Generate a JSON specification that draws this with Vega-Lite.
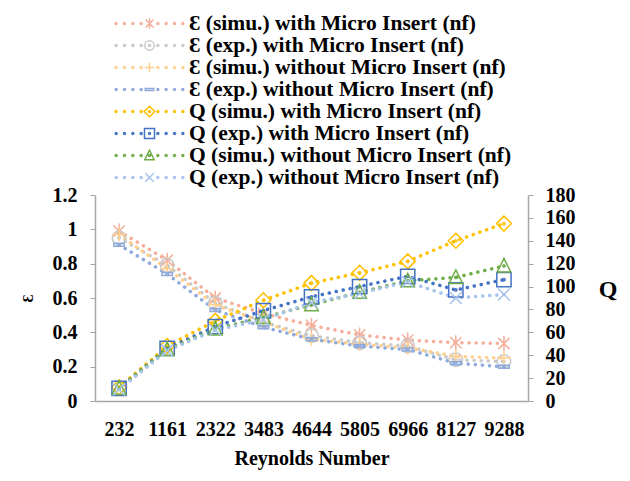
{
  "$schema": "https://vega.github.io/schema/vega-lite/v6.json",
  "width": 433,
  "height": 206,
  "autosize": {"type": "none"},
  "padding": {"left": 95, "top": 195, "right": 102, "bottom": 80},
  "background": "white",
  "config": {"view": {"stroke": null}, "font": "Liberation Serif"},
  "data": {"values": [
    {"Re": 232, "g": "E", "s": "Ɛ (simu.) with Micro Insert (nf)", "v": 0.99},
    {"Re": 1161, "g": "E", "s": "Ɛ (simu.) with Micro Insert (nf)", "v": 0.82},
    {"Re": 2322, "g": "E", "s": "Ɛ (simu.) with Micro Insert (nf)", "v": 0.60},
    {"Re": 3483, "g": "E", "s": "Ɛ (simu.) with Micro Insert (nf)", "v": 0.51},
    {"Re": 4644, "g": "E", "s": "Ɛ (simu.) with Micro Insert (nf)", "v": 0.44},
    {"Re": 5805, "g": "E", "s": "Ɛ (simu.) with Micro Insert (nf)", "v": 0.385},
    {"Re": 6966, "g": "E", "s": "Ɛ (simu.) with Micro Insert (nf)", "v": 0.355},
    {"Re": 8127, "g": "E", "s": "Ɛ (simu.) with Micro Insert (nf)", "v": 0.34},
    {"Re": 9288, "g": "E", "s": "Ɛ (simu.) with Micro Insert (nf)", "v": 0.335},
    {"Re": 232, "g": "E", "s": "Ɛ  (exp.) with Micro Insert (nf)", "v": 0.95},
    {"Re": 1161, "g": "E", "s": "Ɛ  (exp.) with Micro Insert (nf)", "v": 0.79},
    {"Re": 2322, "g": "E", "s": "Ɛ  (exp.) with Micro Insert (nf)", "v": 0.57},
    {"Re": 3483, "g": "E", "s": "Ɛ  (exp.) with Micro Insert (nf)", "v": 0.46},
    {"Re": 4644, "g": "E", "s": "Ɛ  (exp.) with Micro Insert (nf)", "v": 0.38},
    {"Re": 5805, "g": "E", "s": "Ɛ  (exp.) with Micro Insert (nf)", "v": 0.34},
    {"Re": 6966, "g": "E", "s": "Ɛ  (exp.) with Micro Insert (nf)", "v": 0.32},
    {"Re": 8127, "g": "E", "s": "Ɛ  (exp.) with Micro Insert (nf)", "v": 0.24},
    {"Re": 9288, "g": "E", "s": "Ɛ  (exp.) with Micro Insert (nf)", "v": 0.23},
    {"Re": 232, "g": "E", "s": "Ɛ  (simu.) without Micro Insert (nf)", "v": 0.97},
    {"Re": 1161, "g": "E", "s": "Ɛ  (simu.) without Micro Insert (nf)", "v": 0.77},
    {"Re": 2322, "g": "E", "s": "Ɛ  (simu.) without Micro Insert (nf)", "v": 0.56},
    {"Re": 3483, "g": "E", "s": "Ɛ  (simu.) without Micro Insert (nf)", "v": 0.46},
    {"Re": 4644, "g": "E", "s": "Ɛ  (simu.) without Micro Insert (nf)", "v": 0.36},
    {"Re": 5805, "g": "E", "s": "Ɛ  (simu.) without Micro Insert (nf)", "v": 0.33},
    {"Re": 6966, "g": "E", "s": "Ɛ  (simu.) without Micro Insert (nf)", "v": 0.31},
    {"Re": 8127, "g": "E", "s": "Ɛ  (simu.) without Micro Insert (nf)", "v": 0.26},
    {"Re": 9288, "g": "E", "s": "Ɛ  (simu.) without Micro Insert (nf)", "v": 0.25},
    {"Re": 232, "g": "E", "s": "Ɛ  (exp.) without  Micro Insert (nf)", "v": 0.91},
    {"Re": 1161, "g": "E", "s": "Ɛ  (exp.) without  Micro Insert (nf)", "v": 0.74},
    {"Re": 2322, "g": "E", "s": "Ɛ  (exp.) without  Micro Insert (nf)", "v": 0.53},
    {"Re": 3483, "g": "E", "s": "Ɛ  (exp.) without  Micro Insert (nf)", "v": 0.43},
    {"Re": 4644, "g": "E", "s": "Ɛ  (exp.) without  Micro Insert (nf)", "v": 0.36},
    {"Re": 5805, "g": "E", "s": "Ɛ  (exp.) without  Micro Insert (nf)", "v": 0.32},
    {"Re": 6966, "g": "E", "s": "Ɛ  (exp.) without  Micro Insert (nf)", "v": 0.30},
    {"Re": 8127, "g": "E", "s": "Ɛ  (exp.) without  Micro Insert (nf)", "v": 0.22},
    {"Re": 9288, "g": "E", "s": "Ɛ  (exp.) without  Micro Insert (nf)", "v": 0.20},
    {"Re": 232, "g": "Q", "s": "Q (simu.) with Micro Insert (nf)", "v": 12},
    {"Re": 1161, "g": "Q", "s": "Q (simu.) with Micro Insert (nf)", "v": 48},
    {"Re": 2322, "g": "Q", "s": "Q (simu.) with Micro Insert (nf)", "v": 70},
    {"Re": 3483, "g": "Q", "s": "Q (simu.) with Micro Insert (nf)", "v": 88},
    {"Re": 4644, "g": "Q", "s": "Q (simu.) with Micro Insert (nf)", "v": 103},
    {"Re": 5805, "g": "Q", "s": "Q (simu.) with Micro Insert (nf)", "v": 112},
    {"Re": 6966, "g": "Q", "s": "Q (simu.) with Micro Insert (nf)", "v": 122},
    {"Re": 8127, "g": "Q", "s": "Q (simu.) with Micro Insert (nf)", "v": 140},
    {"Re": 9288, "g": "Q", "s": "Q (simu.) with Micro Insert (nf)", "v": 155},
    {"Re": 232, "g": "Q", "s": "Q (exp.) with Micro Insert (nf)", "v": 11},
    {"Re": 1161, "g": "Q", "s": "Q (exp.) with Micro Insert (nf)", "v": 46},
    {"Re": 2322, "g": "Q", "s": "Q (exp.) with Micro Insert (nf)", "v": 65},
    {"Re": 3483, "g": "Q", "s": "Q (exp.) with Micro Insert (nf)", "v": 79},
    {"Re": 4644, "g": "Q", "s": "Q (exp.) with Micro Insert (nf)", "v": 91},
    {"Re": 5805, "g": "Q", "s": "Q (exp.) with Micro Insert (nf)", "v": 100},
    {"Re": 6966, "g": "Q", "s": "Q (exp.) with Micro Insert (nf)", "v": 109},
    {"Re": 8127, "g": "Q", "s": "Q (exp.) with Micro Insert (nf)", "v": 97},
    {"Re": 9288, "g": "Q", "s": "Q (exp.) with Micro Insert (nf)", "v": 106},
    {"Re": 232, "g": "Q", "s": "Q (simu.) without Micro Insert (nf)", "v": 11},
    {"Re": 1161, "g": "Q", "s": "Q (simu.) without Micro Insert (nf)", "v": 45},
    {"Re": 2322, "g": "Q", "s": "Q (simu.) without Micro Insert (nf)", "v": 63},
    {"Re": 3483, "g": "Q", "s": "Q (simu.) without Micro Insert (nf)", "v": 73},
    {"Re": 4644, "g": "Q", "s": "Q (simu.) without Micro Insert (nf)", "v": 84},
    {"Re": 5805, "g": "Q", "s": "Q (simu.) without Micro Insert (nf)", "v": 95},
    {"Re": 6966, "g": "Q", "s": "Q (simu.) without Micro Insert (nf)", "v": 105},
    {"Re": 8127, "g": "Q", "s": "Q (simu.) without Micro Insert (nf)", "v": 108},
    {"Re": 9288, "g": "Q", "s": "Q (simu.) without Micro Insert (nf)", "v": 118},
    {"Re": 232, "g": "Q", "s": "Q (exp.) without  Micro Insert (nf)", "v": 10},
    {"Re": 1161, "g": "Q", "s": "Q (exp.) without  Micro Insert (nf)", "v": 44},
    {"Re": 2322, "g": "Q", "s": "Q (exp.) without  Micro Insert (nf)", "v": 62},
    {"Re": 3483, "g": "Q", "s": "Q (exp.) without  Micro Insert (nf)", "v": 71},
    {"Re": 4644, "g": "Q", "s": "Q (exp.) without  Micro Insert (nf)", "v": 86},
    {"Re": 5805, "g": "Q", "s": "Q (exp.) without  Micro Insert (nf)", "v": 94},
    {"Re": 6966, "g": "Q", "s": "Q (exp.) without  Micro Insert (nf)", "v": 104},
    {"Re": 8127, "g": "Q", "s": "Q (exp.) without  Micro Insert (nf)", "v": 90},
    {"Re": 9288, "g": "Q", "s": "Q (exp.) without  Micro Insert (nf)", "v": 93}
  ]},
  "encoding": {
    "x": {"field": "Re", "type": "ordinal", "scale": {"type": "point", "padding": 0.5},
      "axis": {"labelAngle": 0, "ticks": false, "labelPadding": 18, "labelFont": "Liberation Serif", "labelFontSize": 20, "labelFontWeight": "bold", "labelColor": "black", "domainColor": "#A6A6A6", "domainWidth": 1.5, "title": "Reynolds Number", "titleFont": "Liberation Serif", "titleFontSize": 20, "titleFontWeight": "bold", "titleColor": "black", "titlePadding": 9}},
    "color": {"field": "s", "type": "nominal", "legend": null,
      "scale": {"domain": ["Ɛ (simu.) with Micro Insert (nf)", "Ɛ  (exp.) with Micro Insert (nf)", "Ɛ  (simu.) without Micro Insert (nf)", "Ɛ  (exp.) without  Micro Insert (nf)", "Q (simu.) with Micro Insert (nf)", "Q (exp.) with Micro Insert (nf)", "Q (simu.) without Micro Insert (nf)", "Q (exp.) without  Micro Insert (nf)"],
        "range": ["#F4AE9A", "#C9C9C9", "#FFD08C", "#8EA9DB", "#FFC000", "#4472C4", "#70AD47", "#A5C3EB"]}}
  },
  "layer": [
    {
      "transform": [{"filter": "datum.g === 'E'"}],
      "encoding": {
        "y": {"field": "v", "type": "quantitative", "scale": {"domain": [0, 1.2]},
          "axis": {"orient": "left", "values": [0, 0.2, 0.4, 0.6, 0.8, 1, 1.2], "format": "~g", "grid": false, "tickSize": 5, "tickColor": "#A6A6A6", "domainColor": "#A6A6A6", "domainWidth": 1.5, "labelPadding": 13, "labelFont": "Liberation Serif", "labelFontSize": 20, "labelFontWeight": "bold", "labelColor": "black", "title": "Ɛ", "titleFont": "Liberation Serif", "titleFontSize": 15, "titleFontWeight": "bold", "titleColor": "black", "titleAngle": 270, "titleX": -63, "titleY": 103, "titleAlign": "center", "titleBaseline": "alphabetic"}}
      },
      "layer": [
        {"mark": {"type": "line", "strokeDash": [0.1, 7], "strokeCap": "round", "strokeWidth": 3.5}},
        {"mark": {"type": "point", "filled": false, "strokeWidth": 1.5, "size": 225, "opacity": 1},
          "encoding": {"shape": {"field": "s", "type": "nominal", "legend": null,
            "scale": {"domain": ["Ɛ (simu.) with Micro Insert (nf)", "Ɛ  (exp.) with Micro Insert (nf)", "Ɛ  (simu.) without Micro Insert (nf)", "Ɛ  (exp.) without  Micro Insert (nf)", "Q (simu.) with Micro Insert (nf)", "Q (exp.) with Micro Insert (nf)", "Q (simu.) without Micro Insert (nf)", "Q (exp.) without  Micro Insert (nf)"],
              "range": [
                "M0,-1L0,1M-0.75,-0.75L0.75,0.75M-0.75,0.75L0.75,-0.75",
                "M-0.9,0a0.9,0.9 0 1,0 1.8,0a0.9,0.9 0 1,0 -1.8,0M-0.15,0a0.15,0.15 0 1,0 0.3,0a0.15,0.15 0 1,0 -0.3,0",
                "M-0.9,0L0.9,0M0,-0.9L0,0.9",
                "M-0.7,-0.2L0.7,-0.2L0.7,0.2L-0.7,0.2ZM-0.15,0a0.15,0.15 0 1,0 0.3,0a0.15,0.15 0 1,0 -0.3,0",
                "M0,-1L1,0L0,1L-1,0ZM-0.15,0a0.15,0.15 0 1,0 0.3,0a0.15,0.15 0 1,0 -0.3,0",
                "M-0.95,-0.95L0.95,-0.95L0.95,0.95L-0.95,0.95ZM-0.15,0a0.15,0.15 0 1,0 0.3,0a0.15,0.15 0 1,0 -0.3,0",
                "M0,-1L0.9,0.8L-0.9,0.8ZM-0.15,0a0.15,0.15 0 1,0 0.3,0a0.15,0.15 0 1,0 -0.3,0",
                "M-0.8,-0.8L0.8,0.8M-0.8,0.8L0.8,-0.8"
              ]}}}}
      ]
    },
    {
      "transform": [{"filter": "datum.g === 'Q'"}],
      "encoding": {
        "y": {"field": "v", "type": "quantitative", "scale": {"domain": [0, 180]},
          "axis": {"orient": "right", "values": [0, 20, 40, 60, 80, 100, 120, 140, 160, 180], "format": "d", "grid": false, "tickSize": 5, "tickColor": "#A6A6A6", "domainColor": "#A6A6A6", "domainWidth": 1.5, "labelPadding": 12, "labelFont": "Liberation Serif", "labelFontSize": 20, "labelFontWeight": "bold", "labelColor": "black", "title": "Q", "titleFont": "Liberation Serif", "titleFontSize": 24, "titleFontWeight": "bold", "titleColor": "black", "titleAngle": 0, "titleX": 79.5, "titleY": 101, "titleAlign": "center", "titleBaseline": "alphabetic"}}
      },
      "layer": [
        {"mark": {"type": "line", "strokeDash": [0.1, 7], "strokeCap": "round", "strokeWidth": 3.5}},
        {"mark": {"type": "point", "filled": false, "strokeWidth": 1.5, "size": 225, "opacity": 1},
          "encoding": {"shape": {"field": "s", "type": "nominal", "legend": null,
            "scale": {"domain": ["Ɛ (simu.) with Micro Insert (nf)", "Ɛ  (exp.) with Micro Insert (nf)", "Ɛ  (simu.) without Micro Insert (nf)", "Ɛ  (exp.) without  Micro Insert (nf)", "Q (simu.) with Micro Insert (nf)", "Q (exp.) with Micro Insert (nf)", "Q (simu.) without Micro Insert (nf)", "Q (exp.) without  Micro Insert (nf)"],
              "range": [
                "M0,-1L0,1M-0.75,-0.75L0.75,0.75M-0.75,0.75L0.75,-0.75",
                "M-0.9,0a0.9,0.9 0 1,0 1.8,0a0.9,0.9 0 1,0 -1.8,0M-0.15,0a0.15,0.15 0 1,0 0.3,0a0.15,0.15 0 1,0 -0.3,0",
                "M-0.9,0L0.9,0M0,-0.9L0,0.9",
                "M-0.7,-0.2L0.7,-0.2L0.7,0.2L-0.7,0.2ZM-0.15,0a0.15,0.15 0 1,0 0.3,0a0.15,0.15 0 1,0 -0.3,0",
                "M0,-1L1,0L0,1L-1,0ZM-0.15,0a0.15,0.15 0 1,0 0.3,0a0.15,0.15 0 1,0 -0.3,0",
                "M-0.95,-0.95L0.95,-0.95L0.95,0.95L-0.95,0.95ZM-0.15,0a0.15,0.15 0 1,0 0.3,0a0.15,0.15 0 1,0 -0.3,0",
                "M0,-1L0.9,0.8L-0.9,0.8ZM-0.15,0a0.15,0.15 0 1,0 0.3,0a0.15,0.15 0 1,0 -0.3,0",
                "M-0.8,-0.8L0.8,0.8M-0.8,0.8L0.8,-0.8"
              ]}}}}
      ]
    },
    {
      "mark": {"type": "point", "filled": false, "strokeWidth": 1.5, "opacity": 0},
      "encoding": {
        "y": {"field": "v", "type": "quantitative", "axis": null},
        "shape": {"field": "s", "type": "nominal",
          "scale": {"domain": ["Ɛ (simu.) with Micro Insert (nf)", "Ɛ  (exp.) with Micro Insert (nf)", "Ɛ  (simu.) without Micro Insert (nf)", "Ɛ  (exp.) without  Micro Insert (nf)", "Q (simu.) with Micro Insert (nf)", "Q (exp.) with Micro Insert (nf)", "Q (simu.) without Micro Insert (nf)", "Q (exp.) without  Micro Insert (nf)"],
            "range": [
              "M0,-0.5L0,0.5M-0.38,-0.38L0.38,0.38M-0.38,0.38L0.38,-0.38M-3.27,0a0.095,0.095 0 1,0 0.19,0a0.095,0.095 0 1,0 -0.19,0M-2.476,0a0.095,0.095 0 1,0 0.19,0a0.095,0.095 0 1,0 -0.19,0M-1.682,0a0.095,0.095 0 1,0 0.19,0a0.095,0.095 0 1,0 -0.19,0M-0.889,0a0.095,0.095 0 1,0 0.19,0a0.095,0.095 0 1,0 -0.19,0M0.699,0a0.095,0.095 0 1,0 0.19,0a0.095,0.095 0 1,0 -0.19,0M1.492,0a0.095,0.095 0 1,0 0.19,0a0.095,0.095 0 1,0 -0.19,0M2.286,0a0.095,0.095 0 1,0 0.19,0a0.095,0.095 0 1,0 -0.19,0M3.08,0a0.095,0.095 0 1,0 0.19,0a0.095,0.095 0 1,0 -0.19,0",
              "M-0.45,0a0.45,0.45 0 1,0 0.9,0a0.45,0.45 0 1,0 -0.9,0M-0.095,0a0.095,0.095 0 1,0 0.19,0a0.095,0.095 0 1,0 -0.19,0M-3.27,0a0.095,0.095 0 1,0 0.19,0a0.095,0.095 0 1,0 -0.19,0M-2.476,0a0.095,0.095 0 1,0 0.19,0a0.095,0.095 0 1,0 -0.19,0M-1.682,0a0.095,0.095 0 1,0 0.19,0a0.095,0.095 0 1,0 -0.19,0M-0.889,0a0.095,0.095 0 1,0 0.19,0a0.095,0.095 0 1,0 -0.19,0M0.699,0a0.095,0.095 0 1,0 0.19,0a0.095,0.095 0 1,0 -0.19,0M1.492,0a0.095,0.095 0 1,0 0.19,0a0.095,0.095 0 1,0 -0.19,0M2.286,0a0.095,0.095 0 1,0 0.19,0a0.095,0.095 0 1,0 -0.19,0M3.08,0a0.095,0.095 0 1,0 0.19,0a0.095,0.095 0 1,0 -0.19,0",
              "M-0.45,0L0.45,0M0,-0.45L0,0.45M-3.27,0a0.095,0.095 0 1,0 0.19,0a0.095,0.095 0 1,0 -0.19,0M-2.476,0a0.095,0.095 0 1,0 0.19,0a0.095,0.095 0 1,0 -0.19,0M-1.682,0a0.095,0.095 0 1,0 0.19,0a0.095,0.095 0 1,0 -0.19,0M-0.889,0a0.095,0.095 0 1,0 0.19,0a0.095,0.095 0 1,0 -0.19,0M0.699,0a0.095,0.095 0 1,0 0.19,0a0.095,0.095 0 1,0 -0.19,0M1.492,0a0.095,0.095 0 1,0 0.19,0a0.095,0.095 0 1,0 -0.19,0M2.286,0a0.095,0.095 0 1,0 0.19,0a0.095,0.095 0 1,0 -0.19,0M3.08,0a0.095,0.095 0 1,0 0.19,0a0.095,0.095 0 1,0 -0.19,0",
              "M-0.4,-0.1L0.4,-0.1L0.4,0.1L-0.4,0.1ZM-3.27,0a0.095,0.095 0 1,0 0.19,0a0.095,0.095 0 1,0 -0.19,0M-2.476,0a0.095,0.095 0 1,0 0.19,0a0.095,0.095 0 1,0 -0.19,0M-1.682,0a0.095,0.095 0 1,0 0.19,0a0.095,0.095 0 1,0 -0.19,0M-0.889,0a0.095,0.095 0 1,0 0.19,0a0.095,0.095 0 1,0 -0.19,0M0.699,0a0.095,0.095 0 1,0 0.19,0a0.095,0.095 0 1,0 -0.19,0M1.492,0a0.095,0.095 0 1,0 0.19,0a0.095,0.095 0 1,0 -0.19,0M2.286,0a0.095,0.095 0 1,0 0.19,0a0.095,0.095 0 1,0 -0.19,0M3.08,0a0.095,0.095 0 1,0 0.19,0a0.095,0.095 0 1,0 -0.19,0",
              "M0,-0.5L0.5,0L0,0.5L-0.5,0ZM-0.095,0a0.095,0.095 0 1,0 0.19,0a0.095,0.095 0 1,0 -0.19,0M-3.27,0a0.095,0.095 0 1,0 0.19,0a0.095,0.095 0 1,0 -0.19,0M-2.476,0a0.095,0.095 0 1,0 0.19,0a0.095,0.095 0 1,0 -0.19,0M-1.682,0a0.095,0.095 0 1,0 0.19,0a0.095,0.095 0 1,0 -0.19,0M-0.889,0a0.095,0.095 0 1,0 0.19,0a0.095,0.095 0 1,0 -0.19,0M0.699,0a0.095,0.095 0 1,0 0.19,0a0.095,0.095 0 1,0 -0.19,0M1.492,0a0.095,0.095 0 1,0 0.19,0a0.095,0.095 0 1,0 -0.19,0M2.286,0a0.095,0.095 0 1,0 0.19,0a0.095,0.095 0 1,0 -0.19,0M3.08,0a0.095,0.095 0 1,0 0.19,0a0.095,0.095 0 1,0 -0.19,0",
              "M-0.48,-0.48L0.48,-0.48L0.48,0.48L-0.48,0.48ZM-0.095,0a0.095,0.095 0 1,0 0.19,0a0.095,0.095 0 1,0 -0.19,0M-3.27,0a0.095,0.095 0 1,0 0.19,0a0.095,0.095 0 1,0 -0.19,0M-2.476,0a0.095,0.095 0 1,0 0.19,0a0.095,0.095 0 1,0 -0.19,0M-1.682,0a0.095,0.095 0 1,0 0.19,0a0.095,0.095 0 1,0 -0.19,0M-0.889,0a0.095,0.095 0 1,0 0.19,0a0.095,0.095 0 1,0 -0.19,0M0.699,0a0.095,0.095 0 1,0 0.19,0a0.095,0.095 0 1,0 -0.19,0M1.492,0a0.095,0.095 0 1,0 0.19,0a0.095,0.095 0 1,0 -0.19,0M2.286,0a0.095,0.095 0 1,0 0.19,0a0.095,0.095 0 1,0 -0.19,0M3.08,0a0.095,0.095 0 1,0 0.19,0a0.095,0.095 0 1,0 -0.19,0",
              "M0,-0.5L0.45,0.4L-0.45,0.4ZM-0.095,0a0.095,0.095 0 1,0 0.19,0a0.095,0.095 0 1,0 -0.19,0M-3.27,0a0.095,0.095 0 1,0 0.19,0a0.095,0.095 0 1,0 -0.19,0M-2.476,0a0.095,0.095 0 1,0 0.19,0a0.095,0.095 0 1,0 -0.19,0M-1.682,0a0.095,0.095 0 1,0 0.19,0a0.095,0.095 0 1,0 -0.19,0M-0.889,0a0.095,0.095 0 1,0 0.19,0a0.095,0.095 0 1,0 -0.19,0M0.699,0a0.095,0.095 0 1,0 0.19,0a0.095,0.095 0 1,0 -0.19,0M1.492,0a0.095,0.095 0 1,0 0.19,0a0.095,0.095 0 1,0 -0.19,0M2.286,0a0.095,0.095 0 1,0 0.19,0a0.095,0.095 0 1,0 -0.19,0M3.08,0a0.095,0.095 0 1,0 0.19,0a0.095,0.095 0 1,0 -0.19,0",
              "M-0.4,-0.4L0.4,0.4M-0.4,0.4L0.4,-0.4M-3.27,0a0.095,0.095 0 1,0 0.19,0a0.095,0.095 0 1,0 -0.19,0M-2.476,0a0.095,0.095 0 1,0 0.19,0a0.095,0.095 0 1,0 -0.19,0M-1.682,0a0.095,0.095 0 1,0 0.19,0a0.095,0.095 0 1,0 -0.19,0M-0.889,0a0.095,0.095 0 1,0 0.19,0a0.095,0.095 0 1,0 -0.19,0M0.699,0a0.095,0.095 0 1,0 0.19,0a0.095,0.095 0 1,0 -0.19,0M1.492,0a0.095,0.095 0 1,0 0.19,0a0.095,0.095 0 1,0 -0.19,0M2.286,0a0.095,0.095 0 1,0 0.19,0a0.095,0.095 0 1,0 -0.19,0M3.08,0a0.095,0.095 0 1,0 0.19,0a0.095,0.095 0 1,0 -0.19,0"
            ]},
          "legend": {"orient": "none", "legendX": 43, "legendY": -183, "title": null, "padding": 0, "labelFont": "Liberation Serif", "labelFontSize": 21.5, "labelFontWeight": "bold", "labelColor": "black", "labelLimit": 500, "symbolSize": 441, "symbolStrokeWidth": 1.5, "symbolOpacity": 1, "rowPadding": -2.2, "symbolOffset": 0, "labelOffset": 28,
            "symbolFillColor": "transparent",
            "symbolStrokeColor": {"expr": "scale('color', datum.value)"}}}
      }
    }
  ],
  "resolve": {"scale": {"y": "independent", "shape": "independent"}, "legend": {"shape": "independent"}}
}
